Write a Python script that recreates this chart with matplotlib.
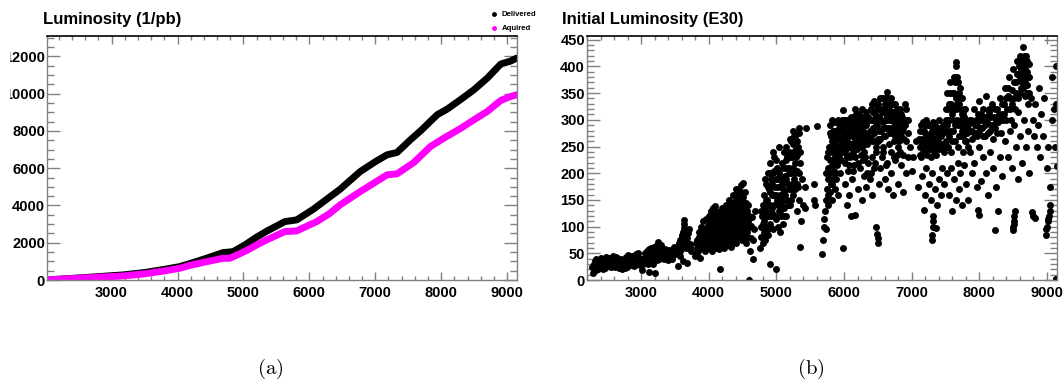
import matplotlib
matplotlib.use('Agg')
import matplotlib.pyplot as plt
from matplotlib.ticker import MultipleLocator
from matplotlib.lines import Line2D
from matplotlib.patches import Rectangle

plt.rcParams['font.family'] = ['Liberation Sans', 'DejaVu Sans']
plt.rcParams['font.weight'] = 'bold'
plt.rcParams['mathtext.fontset'] = 'cm'

# ---- panel (a): integrated luminosity vs fill number ----
deliv_fill = [2000, 2500, 3168, 3500, 3802, 4030, 4234, 4450, 4690, 4843, 5020, 5200, 5350,
              5629, 5807, 6061, 6250, 6467, 6772, 7000, 7178, 7330, 7533, 7700, 7939, 8091,
              8300, 8497, 8700, 8904, 9050, 9150]
deliv_lumi = [0, 110, 270, 400, 573, 717, 932, 1180, 1470, 1523, 1880, 2300, 2616,
              3136, 3226, 3800, 4300, 4875, 5824, 6350, 6720, 6846, 7527, 8050, 8871, 9176,
              9700, 10215, 10842, 11595, 11750, 11918]
acq_fill = [2000, 2500, 3168, 3500, 3827, 4030, 4234, 4450, 4690, 4792, 5046, 5200, 5350,
            5629, 5807, 6112, 6300, 6467, 6772, 7000, 7178, 7330, 7584, 7838, 8041,
            8300, 8497, 8700, 8904, 9050, 9150]
acq_lumi = [0, 95, 215, 330, 502, 627, 824, 990, 1165, 1165, 1577, 1880, 2150,
            2599, 2634, 3136, 3550, 4032, 4749, 5250, 5645, 5699, 6308, 7168, 7616,
            8150, 8602, 9050, 9642, 9850, 9946]

# ---- panel (b): initial luminosity per fill ----
early = [(2290,13),(2300,22),(2310,30),(2320,36),(2330,40),(2340,26),(2350,33),(2370,20),(2390,28),
         (2400,36),(2420,25),(2440,31),(2450,40),(2470,22),(2490,29),(2500,35),(2520,42),(2530,27),
         (2550,33),(2570,38),(2580,45),(2600,30),(2620,25),(2640,36),(2650,42),(2670,22),(2690,28),
         (2700,33),(2720,20),(2740,26),(2750,31),(2770,38),(2790,24),(2800,30),(2820,35),(2840,28),
         (2850,40),(2870,45),(2880,33),(2900,38),(2920,48),(2930,30),(2950,36),(2970,42),(2990,30),
         (2560,24),(2610,39),(2660,30),(2710,40),(2760,22),(2810,46),(2860,36),(2890,26),(2940,44),
         (2980,28),
         (3020,18),(3030,30),(3050,42),(3060,50),(3080,35),(3090,55),(3100,45),(3110,58),(3120,15),
         (3130,38),(3140,48),(3150,60),(3160,42),(3170,52),(3180,30),(3190,62),(3200,14),(3210,45),
         (3220,55),(3230,66),(3240,38),(3250,72),(3260,50),(3270,60),(3280,44),(3300,55),(3320,48),
         (3340,40),(3350,58),(3370,45),(3380,52),(3400,38),(3420,50),(3430,44),(3450,56),(3460,40),
         (3480,52),(3490,62),(3500,48),
         (3520,50),(3530,58),(3540,64),(3550,26),(3560,70),(3570,55),(3580,75),(3590,62),(3600,80),
         (3610,68),(3620,36),(3620,90),(3630,112),(3635,98),(3640,85),(3650,72),(3655,95),(3660,60),
         (3670,88),(3680,32),(3680,78),(3690,66),(3700,70),(3720,62),(3740,55),
         (3800,45),(3820,60),(3830,75),(3840,55),(3850,90),(3860,68),(3870,42),(3880,80),(3890,100),
         (3900,62),(3910,85),(3920,110),(3930,72),(3940,55),(3950,95),(3960,115),(3970,78),(3980,65),
         (3990,88),(4000,105)]
early_dense = [(2280,25),(2330,18),(2360,38),(2380,32),(2410,42),(2430,20),(2460,35),(2480,44),
               (2510,30),(2540,38),(2590,35),(2630,44),(2680,36),(2730,30),(2780,44),(2830,40),
               (2910,42),(2960,50),
               (3040,36),(3070,45),(3100,30),(3130,52),(3160,35),(3200,50),(3230,45),(3260,40),
               (3290,65),(3310,42),(3330,52),(3360,48),(3390,44),(3410,56),(3440,48),(3470,46),
               (3510,55),(3580,45),(3600,60),(3610,85),(3640,105),(3660,80),(3690,88),(3710,95),
               (3730,68),(3810,70),(3830,50),(3860,80),(3880,60),(3900,95),(3920,75),(3940,85),
               (3960,60),(3980,100),(3990,75)]
middle = [(4010,60),(4010,90),(4010,120),(4030,70),(4030,100),(4030,130),(4050,55),(4050,85),(4050,112),
          (4070,65),(4070,95),(4070,125),(4090,75),(4090,105),(4090,138),(4110,60),(4110,88),(4110,118),
          (4130,70),(4130,100),(4130,128),(4150,58),(4150,82),(4150,110),(4170,20),(4170,92),(4170,122),
          (4190,65),(4190,98),(4190,135),(4210,72),(4210,105),(4230,60),(4230,88),(4230,118),(4250,75),
          (4250,108),(4250,140),(4270,66),(4270,95),(4270,125),(4290,80),(4290,112),(4310,70),(4310,100),
          (4310,135),(4330,62),(4330,90),(4330,120),(4350,85),(4350,115),(4350,145),(4370,75),(4370,105),
          (4390,95),(4390,130),(4390,160),
          (4410,70),(4410,110),(4410,150),(4430,90),(4430,130),(4430,170),(4450,80),(4450,120),(4450,160),
          (4470,100),(4470,140),(4470,178),(4490,75),(4490,115),(4490,150),(4510,95),(4510,135),(4510,182),
          (4530,85),(4530,125),(4530,165),(4550,70),(4550,108),(4550,145),(4570,90),(4570,130),(4590,100),
          (4590,120),(4600,0),(4610,55),(4620,78),(4630,102),(4640,118),(4650,40),(4660,75),(4670,95),
          (4680,130),
          (4760,60),(4770,80),(4780,100),(4790,120),(4800,70),(4800,140),(4810,90),(4820,110),(4820,160),
          (4830,75),(4840,130),(4850,180),(4850,100),(4860,150),(4870,85),(4870,200),(4880,120),(4890,170),
          (4900,30),(4900,140),(4910,105),(4910,220),(4920,190),(4930,125),(4940,160),(4950,240),(4950,95),
          (4960,205),(4970,140),(4980,175),(4990,115),(5000,20),(5000,225),(5010,150),(5020,190),(5030,100),
          (5040,130),(5040,250),
          (5060,90),(5070,120),(5080,150),(5090,180),(5100,105),(5100,210),(5110,135),(5120,165),(5130,195),
          (5140,225),(5150,120),(5150,250),(5160,150),(5170,180),(5180,210),(5190,240),(5200,140),(5200,265),
          (5210,170),(5220,200),(5230,230),(5240,280),(5245,255),(5250,160),(5260,190),(5270,220),(5280,270),
          (5290,245),(5300,130),(5300,205),(5310,235),(5320,175),(5330,285),(5340,150),(5350,62),(5350,220),
          (5360,110),(5380,190),(5400,140),(5420,135),(5430,175),(5440,285),(5560,150),(5570,140),(5560,180),
          (5595,289),
          (5680,48),(5690,75),(5700,100),(5710,115),(5720,130),(5730,95),(5740,150),(5750,170),(5750,230),
          (5760,190),(5770,140),(5770,210),(5780,250),(5790,165),(5790,275),(5800,200),(5800,290),(5810,225),
          (5820,180),(5820,260),(5830,150),(5830,300),(5840,240),(5850,205),(5850,280),(5860,170),(5860,260),
          (5870,230),(5880,295),(5880,190),(5890,250),(5900,215),(5900,270),(5910,160),(5920,240),(5930,285),
          (5940,200),(5950,255),(5960,225),(5970,300),(5985,59),(5985,318),(5990,270),(6000,240)]
middle_dense = [(4020,80),(4020,110),(4040,60),(4040,92),(4040,122),(4060,75),(4060,105),(4060,135),
                (4080,68),(4080,88),(4080,115),(4100,80),(4100,110),(4100,130),(4120,65),(4120,95),
                (4120,108),(4140,78),(4140,118),(4140,90),(4160,66),(4160,100),(4160,130),(4180,75),
                (4180,110),(4200,85),(4200,120),(4220,68),(4220,95),(4220,130),(4240,82),(4240,100),
                (4260,70),(4260,115),(4280,90),(4280,130),(4300,75),(4300,105),(4300,150),(4320,85),
                (4320,128),(4340,70),(4340,100),(4340,135),(4360,95),(4360,125),(4360,160),(4380,85),
                (4380,115),(4380,145),(4400,100),(4400,140),(4400,170),(4420,80),(4420,120),(4440,105),
                (4440,145),(4460,90),(4460,130),(4480,110),(4480,165),(4500,85),(4500,125),(4500,155),
                (4520,105),(4520,145),(4540,95),(4540,135),(4560,80),(4560,120),(4580,110),(4580,140),
                (4780,130),(4800,105),(4820,135),(4830,190),(4840,85),(4850,150),(4860,120),(4870,175),
                (4880,95),(4890,140),(4900,200),(4910,165),(4920,120),(4930,180),(4940,135),(4950,200),
                (4960,160),(4970,230),(4980,120),(4990,190),(5000,160),(5010,210),(5020,140),(5030,175),
                (5040,200),(5050,160),(5060,130),(5070,190),(5080,220),(5090,140),(5100,170),(5110,240),
                (5120,120),(5130,160),(5140,190),(5150,210),(5160,230),(5170,140),(5180,170),(5190,200),
                (5200,230),(5210,260),(5220,150),(5230,180),(5240,210),(5250,240),(5260,270),(5270,170),
                (5280,200),(5290,230),(5300,260),(5310,180),(5320,250),(5330,200),(5340,275),(5350,240),
                (5740,200),(5760,240),(5760,160),(5780,200),(5790,225),(5800,250),(5810,180),(5810,270),
                (5820,215),(5830,240),(5840,190),(5840,280),(5850,250),(5860,220),(5860,295),(5870,200),
                (5870,270),(5880,240),(5890,220),(5890,280),(5900,245),(5910,300),(5920,265),(5930,230),
                (5940,280),(5950,240),(5960,290),(5970,250),(5980,280),(6000,300)]
late = [(6010,290),(6020,260),(6030,280),(6040,235),(6050,300),(6060,270),(6070,250),(6080,290),(6090,230),
        (6100,275),(6110,305),(6120,255),(6130,285),(6140,240),(6150,300),(6160,265),(6170,320),(6180,280),
        (6190,245),(6200,295),(6210,270),(6220,310),(6230,250),(6240,285),(6250,300),(6260,265),(6270,320),
        (6280,280),(6290,240),(6300,300),(6310,270),(6320,315),(6330,290),(6340,255),(6350,305),
        (6020,180),(6040,140),(6060,205),(6080,160),(6100,120),(6120,190),(6150,215),(6165,122),(6200,170),
        (6230,210),(6260,150),(6290,195),(6320,175),(6350,220),(6380,190),
        (6380,280),(6400,320),(6410,260),(6420,300),(6440,335),(6450,275),(6460,310),(6480,250),(6490,290),
        (6500,330),(6510,265),(6520,305),(6540,340),(6550,280),(6560,315),(6570,250),(6580,295),(6600,330),
        (6610,270),(6620,310),(6640,352),(6650,285),(6660,320),(6670,255),(6680,300),(6700,340),(6710,275),
        (6720,315),(6740,260),(6750,300),(6760,330),(6780,280),(6790,310),(6800,250),(6820,295),(6830,320),
        (6850,270),(6860,305),(6880,285),(6900,330),(6910,260),(6930,300),(6950,275),
        (6400,200),(6420,160),(6460,220),(6480,100),(6490,87),(6500,78),(6505,70),(6520,180),(6560,230),
        (6600,190),(6620,215),(6650,170),(6700,200),(6720,160),(6760,225),(6800,180),(6850,215),(6880,165),
        (6920,200),(6950,230),
        (6980,250),(7000,205),(7020,230),(7060,260),(7100,175),(7120,250),(7130,280),(7140,230),(7160,265),
        (7170,295),(7180,240),(7190,131),(7200,275),(7210,250),(7220,300),(7230,235),(7240,270),(7260,290),
        (7270,245),(7280,275),(7290,230),(7300,260),(7300,75),(7305,85),(7310,100),(7315,110),(7320,120),
        (7320,295),(7340,250),(7350,280),(7360,235),(7380,270),(7400,300),(7410,245),(7430,280),(7450,255),
        (7470,290),(7480,240),
        (7150,195),(7200,160),(7210,210),(7250,180),(7280,150),(7300,200),(7340,170),(7360,97),(7380,140),
        (7400,190),(7430,160),(7450,210),(7480,180),
        (7500,280),(7510,320),(7520,250),(7530,350),(7540,300),(7550,270),(7560,330),(7570,370),(7580,240),
        (7590,310),(7600,350),(7610,280),(7620,380),(7630,320),(7640,260),(7650,400),(7655,408),(7660,340),
        (7670,300),(7680,370),(7690,250),(7700,330),(7710,290),(7720,360),(7730,270),(7740,310),(7750,340),
        (7760,240),(7770,290),(7780,320),(7790,260),(7800,300),(7820,275),(7840,250),
        (7520,200),(7550,160),(7580,210),(7600,130),(7620,190),(7650,150),(7680,220),(7700,170),(7720,200),
        (7750,140),(7780,215),(7800,180),(7830,150),
        (7860,280),(7880,300),(7900,265),(7920,320),(7940,290),(7960,270),(7980,310),(8000,335),(8010,285),
        (8030,300),(8050,270),(8060,320),(8080,290),(8100,345),(8110,305),(8130,275),(8150,315),(8170,290),
        (8190,330),(8200,265),(8220,305),(8240,285),(8260,320),(8280,295),(8300,340),(8320,275),(8340,310),
        (7870,240),(7900,200),(7930,220),(7960,175),(7980,131),(7990,122),(8000,250),(8030,185),(8060,230),
        (8100,200),(8130,160),(8160,240),(8200,210),(8228,94),(8250,175),(8280,130),(8300,230),(8330,195),
        (8360,330),(8380,360),(8400,300),(8420,345),(8440,380),(8460,320),(8480,355),(8500,395),(8510,290),
        (8520,340),(8540,370),(8560,410),(8570,315),(8580,385),(8600,350),(8610,420),(8620,395),(8630,370),
        (8640,437),(8650,410),(8660,380),(8670,345),(8680,400),(8690,420),(8700,365),(8710,390),(8720,330),
        (8730,405),(8740,350),
        (8380,260),(8420,230),(8450,280),(8480,210),(8500,94),(8505,100),(8510,105),(8515,110),(8520,120),
        (8525,130),(8540,250),(8570,190),(8600,270),(8630,220),(8660,300),(8690,250),(8720,280),(8740,200),
        (8780,128),(8800,120),(8820,116),(8790,300),(8810,270),(8830,330),(8850,250),(8870,290),(8890,360),
        (8900,230),(8920,310),(8940,270),(8960,340),(8980,85),(8990,95),(9000,100),(9010,110),(9020,115),
        (9030,120),(9040,130),(9050,140),(9000,210),(9020,250),(9050,175),(9070,300),(9080,380),(9100,320),
        (9120,250),(9130,2),(9140,2),(9145,213),(9140,400),(9130,330)]
late_dense = [(6010,255),(6020,300),(6030,245),(6040,275),(6050,260),(6060,295),(6070,280),(6080,250),
              (6090,300),(6100,255),(6110,285),(6120,270),(6130,250),(6140,300),(6150,270),(6160,290),
              (6170,255),(6180,310),(6190,280),(6200,260),(6210,300),(6220,275),(6230,295),(6240,260),
              (6250,280),(6260,305),(6270,250),(6280,300),(6290,275),(6300,255),(6310,290),(6320,260),
              (6330,270),(6340,300),(6350,270),
              (6020,220),(6050,230),(6080,215),(6110,235),(6140,205),(6170,230),(6200,220),(6250,235),
              (6280,225),(6310,230),(6340,200),
              (6390,300),(6400,270),(6410,330),(6430,285),(6430,315),(6450,300),(6460,260),(6470,330),
              (6480,290),(6490,320),(6500,260),(6510,300),(6520,280),(6530,320),(6540,265),(6550,300),
              (6560,340),(6570,285),(6580,320),(6590,270),(6600,300),(6610,340),(6620,285),(6630,320),
              (6640,300),(6650,340),(6660,275),(6670,310),(6680,330),(6690,285),(6700,310),(6710,300),
              (6720,280),(6730,330),(6740,295),(6750,270),(6760,305),(6770,290),(6780,320),(6790,270),
              (6800,300),(6810,280),(6820,260),(6830,290),(6840,310),(6860,280),(6870,300),(6890,265),
              (6900,290),(6920,320),(6940,300),
              (6420,230),(6440,210),(6480,240),(6540,210),(6580,240),(6640,220),(6690,240),(6740,230),
              (6790,235),(6830,240),(6870,235),
              (7110,265),(7125,235),(7140,290),(7150,255),(7165,240),(7180,280),(7190,260),(7205,290),
              (7215,265),(7225,245),(7240,290),(7250,260),(7265,270),(7275,255),(7285,290),(7300,280),
              (7310,250),(7325,265),(7330,240),(7345,290),(7355,260),(7370,250),(7385,285),(7395,260),
              (7410,275),(7420,250),(7440,270),(7460,275),(7470,250),
              (7505,300),(7515,260),(7525,290),(7535,320),(7545,250),(7555,300),(7565,350),(7575,280),
              (7585,330),(7595,260),(7605,320),(7615,300),(7625,350),(7635,290),(7645,370),(7655,320),
              (7665,380),(7675,330),(7685,290),(7695,350),(7705,270),(7715,320),(7725,300),(7735,340),
              (7745,280),(7755,310),(7765,270),(7775,305),(7785,285),(7795,320),(7810,260),(7830,290),
              (7870,300),(7890,280),(7910,295),(7930,275),(7950,300),(7970,290),(7990,280),(8020,310),
              (8040,285),(8070,305),(8090,270),(8120,295),(8140,320),(8160,280),(8180,305),(8210,290),
              (8230,320),(8250,300),(8270,275),(8290,310),(8310,300),(8330,330),(8350,300),
              (8370,310),(8390,340),(8410,320),(8430,360),(8450,340),(8470,300),(8490,330),(8510,370),
              (8530,320),(8550,350),(8560,385),(8580,340),(8590,400),(8600,380),(8620,360),(8630,410),
              (8640,390),(8650,360),(8660,420),(8670,395),(8680,370),(8690,390),(8700,410),(8710,350),
              (8720,380),(8740,380),(8760,340)]

W, H = 1064, 385
fig = plt.figure(figsize=(W / 100, H / 100), dpi=100)
ax1 = fig.add_axes([47 / W, 1 - 280 / H, 470 / W, 244 / H])
ax2 = fig.add_axes([587 / W, 1 - 280 / H, 470 / W, 244 / H])

ax1.plot(deliv_fill, deliv_lumi, '-', color='black', lw=5, solid_capstyle='round', solid_joinstyle='round')
ax1.plot(acq_fill, acq_lumi, '-', color='#ff00ff', lw=5, solid_capstyle='round', solid_joinstyle='round')
ax1.set_xlim(2020, 9150)
ax1.set_ylim(0, 13100)
ax1.xaxis.set_major_locator(MultipleLocator(1000))
ax1.xaxis.set_minor_locator(MultipleLocator(200))
ax1.yaxis.set_major_locator(MultipleLocator(2000))
ax1.yaxis.set_minor_locator(MultipleLocator(500))

pts = early + early_dense + middle + middle_dense + late + late_dense
ax2.plot([p[0] for p in pts], [p[1] for p in pts], 'o', color='black', ms=5, mew=0)
ax2.set_xlim(2200, 9150)
ax2.set_ylim(0, 457)
ax2.xaxis.set_major_locator(MultipleLocator(1000))
ax2.xaxis.set_minor_locator(MultipleLocator(200))
ax2.yaxis.set_major_locator(MultipleLocator(50))
ax2.yaxis.set_minor_locator(MultipleLocator(10))

for ax in (ax1, ax2):
    for s in ('left', 'bottom', 'right'):
        ax.spines[s].set_color('#808080')
        ax.spines[s].set_linewidth(1.0)
    ax.spines['top'].set_color('black')
    ax.spines['top'].set_linewidth(1.2)
    ax.tick_params(axis='both', which='both', direction='in', top=True, right=True,
                   color='#808080', width=1.0, labelsize=10.5)
    ax.tick_params(axis='x', which='major', length=5.8, pad=4)
    ax.tick_params(axis='x', which='minor', length=3.2)
    ax.tick_params(axis='y', which='major', length=9.4, pad=1.5)
    ax.tick_params(axis='y', which='minor', length=4.7)
    for lab in ax.get_xticklabels() + ax.get_yticklabels():
        lab.set_fontweight('bold')

# the left edge of the source image clips the first digit of the widest labels
fig.add_artist(Rectangle((0, 0), 8.5 / W, 1, transform=fig.transFigure, color='white', zorder=10))

fig.text(43 / W, 1 - 24 / H, 'Luminosity (1/pb)', fontsize=12, fontweight='bold', va='baseline')
fig.text(562 / W, 1 - 24 / H, 'Initial Luminosity (E30)', fontsize=12, fontweight='bold', va='baseline')

# legend
fig.add_artist(Line2D([494 / W], [1 - 14 / H], marker='o', color='black', ms=3.5, mew=0,
                      transform=fig.transFigure))
fig.add_artist(Line2D([494 / W], [1 - 28 / H], marker='o', color='#ff00ff', ms=3.5, mew=0,
                      transform=fig.transFigure))
fig.text(502 / W, 1 - 14 / H, 'Delivered', fontsize=5.6, fontweight='bold', va='center')
fig.text(502 / W, 1 - 28 / H, 'Aquired', fontsize=5.6, fontweight='bold', va='center')

fig.text(270 / W, 1 - 374 / H, r'$\mathrm{(a)}$', fontsize=15, ha='center', va='baseline')
fig.text(811 / W, 1 - 374 / H, r'$\mathrm{(b)}$', fontsize=15, ha='center', va='baseline')

fig.savefig('out.png', dpi=100)
